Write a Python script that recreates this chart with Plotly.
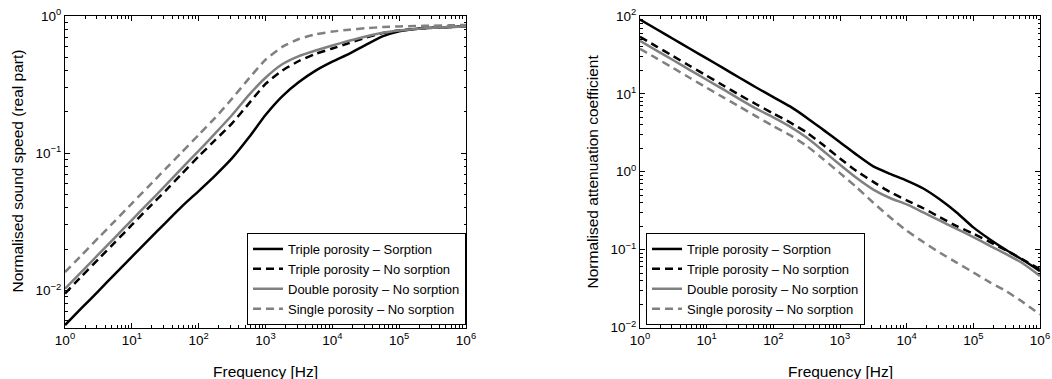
import plotly.graph_objects as go

# ---------------- data ----------------
freq_hz = [1, 1.778, 3.162, 5.623, 10, 17.78, 31.62, 56.23, 100, 177.8, 316.2, 562.3,
           1000, 1778, 3162, 5623, 1e4, 1.778e4, 3.162e4, 5.623e4, 1e5, 1.778e5,
           3.162e5, 5.623e5, 1e6]

series_names = ["Triple porosity \u2013 Sorption",
                "Triple porosity \u2013 No sorption",
                "Double porosity \u2013 No sorption",
                "Single porosity \u2013 No sorption"]

# Normalised sound speed (real part)
speed_triple_sorption = [0.0056, 0.00745, 0.0099, 0.0132, 0.0176, 0.0234, 0.031, 0.041, 0.053,
                         0.069, 0.092, 0.13, 0.19, 0.26, 0.33, 0.40, 0.465, 0.53, 0.615, 0.71,
                         0.775, 0.805, 0.82, 0.83, 0.84]
speed_triple_nosorp = [0.0095, 0.0127, 0.0169, 0.0225, 0.030, 0.040, 0.053, 0.071, 0.095,
                       0.125, 0.165, 0.23, 0.32, 0.40, 0.47, 0.53, 0.58, 0.635, 0.695, 0.75,
                       0.785, 0.805, 0.82, 0.83, 0.84]
speed_double_nosorp = [0.0103, 0.0137, 0.0183, 0.0244, 0.0326, 0.0435, 0.058, 0.078, 0.104,
                       0.14, 0.19, 0.265, 0.355, 0.445, 0.51, 0.56, 0.61, 0.66, 0.71, 0.755,
                       0.785, 0.805, 0.82, 0.83, 0.84]
speed_single_nosorp = [0.0136, 0.0181, 0.0242, 0.0322, 0.043, 0.0573, 0.0765, 0.102, 0.136,
                       0.182, 0.25, 0.35, 0.48, 0.595, 0.68, 0.735, 0.77, 0.795, 0.815, 0.83,
                       0.84, 0.845, 0.85, 0.855, 0.86]

# Normalised attenuation coefficient
atten_triple_sorption = [90, 67.5, 50.6, 38, 28.5, 21.4, 16, 12, 9.1, 6.9, 4.95, 3.45, 2.4,
                         1.65, 1.17, 0.94, 0.77, 0.61, 0.44, 0.30, 0.193, 0.135, 0.098,
                         0.073, 0.053]
atten_triple_nosorp = [54, 40.5, 30.4, 22.8, 17.1, 12.8, 9.6, 7.3, 5.6, 4.3, 3.2, 2.2, 1.48,
                       1.02, 0.74, 0.55, 0.43, 0.34, 0.26, 0.20, 0.16, 0.125, 0.097, 0.074,
                       0.056]
atten_double_nosorp = [48, 36, 27, 20.2, 15.2, 11.4, 8.5, 6.4, 5.0, 3.8, 2.75, 1.85, 1.23,
                       0.83, 0.59, 0.46, 0.38, 0.30, 0.235, 0.185, 0.145, 0.112, 0.087,
                       0.066, 0.046]
atten_single_nosorp = [38, 28.5, 21.4, 16, 12, 9.0, 6.8, 5.1, 3.85, 2.95, 2.15, 1.45, 0.96,
                       0.63, 0.40, 0.26, 0.175, 0.125, 0.091, 0.068, 0.051, 0.038, 0.029,
                       0.021, 0.0147]

x_tick_vals = [1, 10, 100, 1e3, 1e4, 1e5, 1e6]
x_tick_text = ["10<sup>0</sup>", "10<sup>1</sup>", "10<sup>2</sup>", "10<sup>3</sup>",
               "10<sup>4</sup>", "10<sup>5</sup>", "10<sup>6</sup>"]
y1_tick_vals = [0.01, 0.1, 1]
y1_tick_text = ["10<sup>\u22122</sup>", "10<sup>\u22121</sup>", "10<sup>0</sup>"]
y2_tick_vals = [0.01, 0.1, 1, 10, 100]
y2_tick_text = ["10<sup>\u22122</sup>", "10<sup>\u22121</sup>", "10<sup>0</sup>",
                "10<sup>1</sup>", "10<sup>2</sup>"]

# ---------------- styling ----------------
FONT = "Liberation Sans, Arial, Helvetica, sans-serif"
GRAY = "#808080"
styles = [dict(color="black", width=2.5, dash="solid"),
          dict(color="black", width=2.5, dash="8px,5px"),
          dict(color=GRAY, width=2.5, dash="solid"),
          dict(color=GRAY, width=2.5, dash="8px,5px")]

W, H = 1052, 379

fig = go.Figure()

left_data = [speed_triple_sorption, speed_triple_nosorp, speed_double_nosorp, speed_single_nosorp]
right_data = [atten_triple_sorption, atten_triple_nosorp, atten_double_nosorp, atten_single_nosorp]

for name, ys, st in zip(series_names, left_data, styles):
    fig.add_trace(go.Scatter(x=freq_hz, y=ys, mode="lines", name=name,
                             line=dict(shape="spline", smoothing=0.5, **st),
                             xaxis="x", yaxis="y", legend="legend"))
for name, ys, st in zip(series_names, right_data, styles):
    fig.add_trace(go.Scatter(x=freq_hz, y=ys, mode="lines", name=name,
                             line=dict(shape="spline", smoothing=0.5, **st),
                             xaxis="x2", yaxis="y2", legend="legend2"))


def minor_vals(lo, hi):
    vals = []
    for e in range(lo, hi):
        for m in range(2, 10):
            vals.append(m * 10 ** e)
    return vals


def axis_common(tickvals, ticktext, minor):
    return dict(type="log", showline=True, linecolor="black", linewidth=1, mirror="ticks",
                ticks="inside", ticklen=5, tickwidth=1, tickcolor="black",
                tickmode="array", tickvals=tickvals, ticktext=ticktext,
                showgrid=False, zeroline=False,
                tickfont=dict(family=FONT, size=13.5, color="black"),
                minor=dict(ticks="inside", ticklen=2.5, tickwidth=1, tickcolor="black",
                           tickmode="array", tickvals=minor, showgrid=False),
                automargin=False)


L1, R1 = 65 / W, 466 / W
L2, R2 = 640 / W, 1040 / W
TOP = 1 - 16 / H
BOT = 1 - 327.5 / H

legend_common = dict(y=1 - 325 / H, yanchor="bottom",
                     bgcolor="white", bordercolor="black", borderwidth=1,
                     font=dict(family=FONT, size=13, color="black"),
                     tracegroupgap=0, itemwidth=30)

fig.update_layout(
    width=W, height=H,
    margin=dict(l=0, r=0, t=0, b=0),
    paper_bgcolor="white", plot_bgcolor="white",
    font=dict(family=FONT, color="black"),
    xaxis=dict(domain=[L1, R1], range=[0, 6], anchor="y",
               **axis_common(x_tick_vals, x_tick_text, minor_vals(0, 6))),
    yaxis=dict(domain=[BOT, TOP], range=[-2.27, 0], anchor="x",
               **axis_common(y1_tick_vals, y1_tick_text, minor_vals(-3, 0))),
    xaxis2=dict(domain=[L2, R2], range=[0, 6], anchor="y2",
                **axis_common(x_tick_vals, x_tick_text, minor_vals(0, 6))),
    yaxis2=dict(domain=[BOT, TOP], range=[-2, 2], anchor="x2",
                **axis_common(y2_tick_vals, y2_tick_text, minor_vals(-2, 2))),
    legend=dict(x=R1, xanchor="right", **legend_common),
    legend2=dict(x=646 / W, xanchor="left", **legend_common),
    showlegend=True,
    annotations=[
        dict(text="Frequency [Hz]", x=(65 + 466) / 2 / W, y=1 - 371 / H, xref="paper", yref="paper",
             showarrow=False, font=dict(family=FONT, size=15.5, color="black"),
             xanchor="center", yanchor="middle"),
        dict(text="Frequency [Hz]", x=(640 + 1040) / 2 / W, y=1 - 371 / H, xref="paper", yref="paper",
             showarrow=False, font=dict(family=FONT, size=15.5, color="black"),
             xanchor="center", yanchor="middle"),
        dict(text="Normalised sound speed (real part)", x=17 / W, y=1 - 171.5 / H,
             xref="paper", yref="paper", showarrow=False, textangle=-90,
             font=dict(family=FONT, size=15.5, color="black"),
             xanchor="center", yanchor="middle"),
        dict(text="Normalised attenuation coefficient", x=592 / W, y=1 - 171.5 / H,
             xref="paper", yref="paper", showarrow=False, textangle=-90,
             font=dict(family=FONT, size=15.5, color="black"),
             xanchor="center", yanchor="middle"),
    ],
)

fig.write_html("out.html")
